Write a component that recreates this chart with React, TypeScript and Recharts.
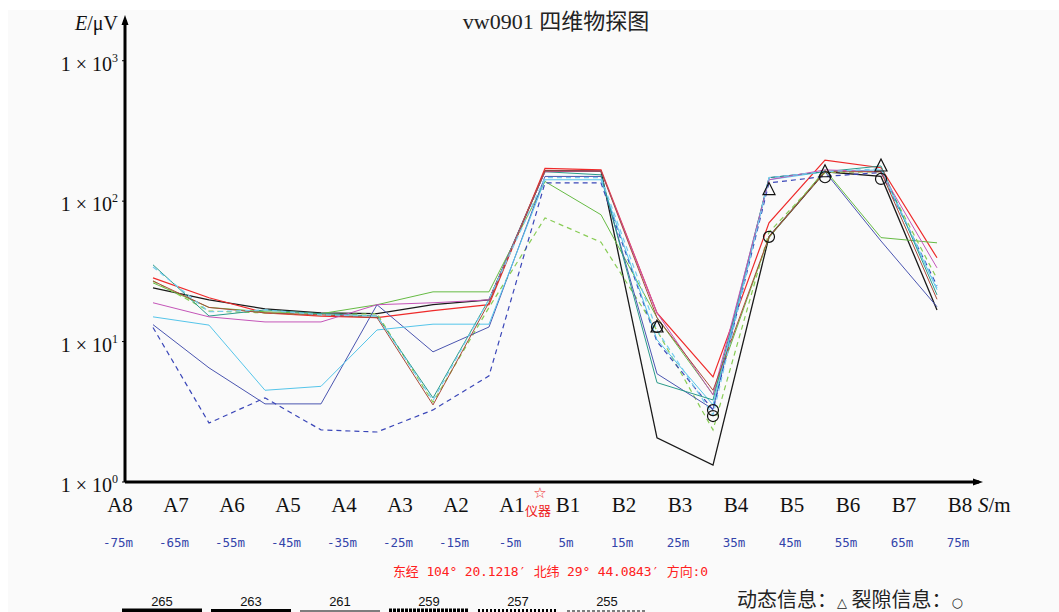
import React from 'react';
import { ComposedChart, Line, Scatter, XAxis, YAxis } from 'recharts';

// Measurement positions (m) – midpoints between electrodes
const positions = [-70, -60, -50, -40, -30, -20, -10, 0, 10, 20, 30, 40, 50, 60, 70];

// Series values (E / μV)
const s265 = [24.1, 19.8, 17.1, 16.0, 15.8, 18.3, 19.8, 164, 164, 2.06, 1.32, 55.7, 162, 150, 16.8];
const s263 = [28.4, 20.5, 16.0, 15.2, 14.8, 16.6, 18.3, 171, 167, 16.0, 5.6, 70, 196, 173, 39.5];
const s261 = [26.2, 17.5, 16.3, 15.8, 18.3, 22.6, 22.6, 138, 80, 14.8, 4.2, 55, 167, 55, 50.5];
const s259 = [27.0, 16.5, 16.0, 15.5, 15.8, 3.7, 17.5, 76, 51, 12.0, 2.35, 60, 160, 162, 28];
const s257 = [13.2, 6.5, 3.6, 3.6, 18.3, 8.45, 12.7, 150, 150, 5.9, 3.3, 147, 162, 52, 17.7];
const s255 = [12.6, 2.63, 3.97, 2.35, 2.27, 3.26, 5.7, 135, 135, 10.0, 3.26, 135, 150, 160, 25];
const s253 = [15.0, 13.1, 4.5, 4.8, 12.1, 13.3, 13.3, 142, 142, 10.3, 3.54, 142, 162, 167, 23.4];
const s251 = [35.2, 15.2, 16.8, 15.8, 15.2, 3.97, 20.0, 162, 154, 5.1, 3.84, 147, 162, 178, 21.5];
const s249 = [18.9, 15.0, 13.8, 13.8, 18.3, 18.9, 19.8, 162, 164, 16.0, 4.17, 142, 167, 162, 33.5];
const s247 = [27.0, 17.5, 16.0, 15.5, 14.8, 3.54, 19.0, 164, 164, 14.8, 4.5, 55.7, 162, 162, 20];
const s245 = [34.0, 16.3, 16.8, 15.5, 15.2, 3.8, 20.0, 147, 147, 12.0, 3.0, 147, 162, 170, 24];

const seriesNames = ['265', '263', '261', '259', '257', '255', '253', '251', '249', '247', '245'];
const seriesValues = [s265, s263, s261, s259, s257, s255, s253, s251, s249, s247, s245];

// Marker info
const dynamicX = [20, 40, 50, 60];
const dynamicE = [12.7, 121, 162, 178];
const fractureX = [20, 30, 30, 40, 50, 60];
const fractureE = [12.7, 3.25, 2.95, 55.7, 148, 144];

// Axis labels
const xTickValues = [-75, -65, -55, -45, -35, -25, -15, -5, 0, 5, 15, 25, 35, 45, 55, 65, 75];
const electrodeLabels = ['A8', 'A7', 'A6', 'A5', 'A4', 'A3', 'A2', 'A1', '', 'B1', 'B2', 'B3', 'B4', 'B5', 'B6', 'B7', 'B8'];
const distanceLabels = ['-75m', '-65m', '-55m', '-45m', '-35m', '-25m', '-15m', '-5m', '', '5m', '15m', '25m', '35m', '45m', '55m', '65m', '75m'];
const yTickValues = [1, 10, 100, 1000];
const legendLabels = ['265', '263', '261', '259', '257', '255'];

const title = 'vw0901 四维物探图';
const coordText = '东经 104° 20.1218′ 北纬 29° 44.0843′ 方向:0';
const infoParts = ['动态信息：', '△', ' 裂隙信息：', '○'];

// Styles (kept apart from the data)
const seriesStyle: Record<string, { stroke: string; width: number; dash?: string }> = {
  '265': { stroke: '#1a1a1a', width: 1.3 },
  '263': { stroke: '#ee2a2a', width: 1.2 },
  '261': { stroke: '#66bb44', width: 1 },
  '259': { stroke: '#88cc55', width: 1.2, dash: '5 4' },
  '257': { stroke: '#4a55b0', width: 1 },
  '255': { stroke: '#3a46b8', width: 1.2, dash: '5 4' },
  '253': { stroke: '#55c5ea', width: 1 },
  '251': { stroke: '#2a9a8a', width: 1 },
  '249': { stroke: '#c455b8', width: 1 },
  '247': { stroke: '#a84a3a', width: 1 },
  '245': { stroke: '#77ccee', width: 1.2, dash: '5 4' },
};
const legendStyle = [
  { width: 5, dash: undefined },
  { width: 4, dash: undefined },
  { width: 1, dash: undefined },
  { width: 5, dash: '3 1' },
  { width: 4, dash: '2 2' },
  { width: 1, dash: '3 2' },
];

const data = positions.map((x, i) => {
  const row: Record<string, number> = { x };
  seriesNames.forEach((n, k) => {
    row[n] = seriesValues[k][i];
  });
  return row;
});
const dynamicPoints = dynamicX.map((x, i) => ({ x, e: dynamicE[i] }));
const fracturePoints = fractureX.map((x, i) => ({ x, e: fractureE[i] }));

const SERIF = "'Liberation Serif', 'Noto Sans CJK SC', serif";

const YTick = (props: any) => {
  const { x, y, payload } = props;
  const exp = Math.round(Math.log10(payload.value));
  return (
    <text x={x} y={y + 10} textAnchor="end" fontFamily={SERIF} fontSize={20} fill="#111">
      1 × 10<tspan dy={-9} fontSize={12}>{exp}</tspan>
    </text>
  );
};

const XTick = (props: any) => {
  const { x, y, payload } = props;
  const i = xTickValues.indexOf(payload.value);
  if (payload.value === 0) {
    return (
      <g>
        <text x={x - 5} y={y + 16} textAnchor="middle" fontSize={15} fill="#ee2222" fontFamily="'DejaVu Sans', sans-serif">☆</text>
        <text x={x - 7} y={y + 33} textAnchor="middle" fontSize={13} fill="#ee2222" fontFamily="'Noto Sans CJK SC', sans-serif">仪器</text>
      </g>
    );
  }
  return (
    <g>
      <text x={x - 5} y={y + 30} textAnchor="middle" fontFamily={SERIF} fontSize={21} fill="#111">
        {electrodeLabels[i]}
      </text>
      <text x={x - 7} y={y + 65} textAnchor="middle" fontFamily="'DejaVu Sans Mono', monospace" fontSize={12.5} fill="#3344aa">
        {distanceLabels[i]}
      </text>
    </g>
  );
};

const Triangle = (props: any) => {
  const { cx, cy } = props;
  return <polygon points={`${cx},${cy - 7} ${cx - 6},${cy + 5} ${cx + 6},${cy + 5}`} fill="none" stroke="#111" strokeWidth={1.2} />;
};
const Circle = (props: any) => {
  const { cx, cy } = props;
  return <circle cx={cx} cy={cy} r={5.5} fill="none" stroke="#111" strokeWidth={1.2} />;
};

export default function App() {
  return (
    <div style={{ position: 'absolute', left: 0, top: 0, width: 1059, height: 612, background: '#fff', overflow: 'hidden' }}>
      <div style={{ position: 'absolute', left: 8, top: 10, width: 1051, height: 602, background: '#fafafa' }} />
      <div style={{ position: 'absolute', left: 0, top: 0 }}>
        <ComposedChart
          width={1059}
          height={612}
          data={data}
          margin={{ top: 20, right: 80, bottom: 100, left: 65 }}
        >
          <XAxis
            dataKey="x"
            type="number"
            domain={[-75, 77.5]}
            allowDataOverflow
            ticks={xTickValues}
            interval={0}
            tick={XTick}
            tickLine={false}
            tickSize={0}
            tickMargin={0}
            height={30}
            axisLine={{ stroke: '#000', strokeWidth: 3 }}
          />
          <YAxis
            type="number"
            scale="log"
            domain={[1, 1950]}
            allowDataOverflow
            ticks={yTickValues}
            interval={0}
            tick={YTick}
            tickSize={3}
            tickMargin={4}
            tickLine={{ stroke: '#000' }}
            width={60}
            axisLine={{ stroke: '#000', strokeWidth: 3 }}
          />
          {seriesNames.map((n) => (
            <Line
              key={n}
              dataKey={n}
              type="linear"
              stroke={seriesStyle[n].stroke}
              strokeWidth={seriesStyle[n].width}
              strokeDasharray={seriesStyle[n].dash}
              dot={false}
              activeDot={false}
              isAnimationActive={false}
            />
          ))}
          <Scatter data={dynamicPoints} dataKey="e" shape={Triangle} isAnimationActive={false} />
          <Scatter data={fracturePoints} dataKey="e" shape={Circle} isAnimationActive={false} />
        </ComposedChart>
      </div>
      <svg width={1059} height={612} style={{ position: 'absolute', left: 0, top: 0, pointerEvents: 'none' }}>
        {/* axis arrowheads */}
        <polygon points="125,15 121.5,25 128.5,25" fill="#000" />
        <polygon points="983,482 973,478.5 973,485.5" fill="#000" />
        <text x={556} y={29} textAnchor="middle" fontFamily={SERIF} fontSize={22} fill="#222">{title}</text>
        <text x={118} y={30} textAnchor="end" fontFamily={SERIF} fontSize={20} fill="#111">
          <tspan fontStyle="italic">E</tspan>/μV
        </text>
        <text x={978} y={512} fontFamily={SERIF} fontSize={21} fill="#111">
          <tspan fontStyle="italic">S</tspan>/m
        </text>
        <text x={393} y={576} fontFamily="'DejaVu Sans Mono', 'Noto Sans CJK SC', monospace" fontSize={13} fill="#ff2020" textLength={315}>
          {coordText}
        </text>
        <text x={737} y={607} fontFamily="'Noto Sans CJK SC', sans-serif" fontSize={20} fill="#222">
          <tspan>{infoParts[0]}</tspan>
          <tspan fontSize={13} fontFamily="'DejaVu Sans', sans-serif">{infoParts[1]}</tspan>
          <tspan>{infoParts[2]}</tspan>
          <tspan fontSize={13} fontFamily="'DejaVu Sans', sans-serif">{infoParts[3]}</tspan>
        </text>
        {legendLabels.map((l, i) => {
          const x0 = 122 + i * 89;
          return (
            <g key={l}>
              <text x={x0 + 40} y={606} textAnchor="middle" fontFamily="'Liberation Sans', sans-serif" fontSize={13} fill="#111">{l}</text>
              <line x1={x0} x2={x0 + 80} y1={611} y2={611} stroke="#000" strokeWidth={legendStyle[i].width} strokeDasharray={legendStyle[i].dash} />
            </g>
          );
        })}
      </svg>
    </div>
  );
}
